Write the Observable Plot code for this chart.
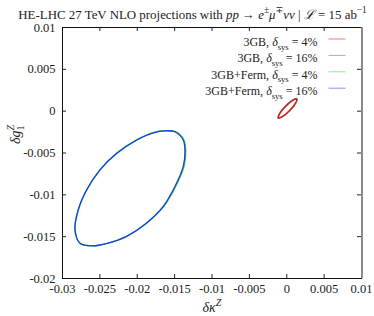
<!DOCTYPE html>
<html><head><meta charset="utf-8">
<script src="https://cdn.jsdelivr.net/npm/d3@7"></script>
<script src="https://cdn.jsdelivr.net/npm/@observablehq/plot@0.6"></script>
<style>body{margin:0;background:#fff}</style>
</head><body>
<script>
// ---- data ----
const xTicks = [-0.03, -0.025, -0.02, -0.015, -0.01, -0.005, 0, 0.005, 0.01];
const yTicks = [-0.02, -0.015, -0.01, -0.005, 0, 0.005, 0.01];

const seriesNames = ["3GB, *δ*_{sys} = 4%", "3GB, *δ*_{sys} = 16%", "3GB+Ferm, *δ*_{sys} = 4%", "3GB+Ferm, *δ*_{sys} = 16%"];
const seriesColors = ["#e01010", "#707070", "#30e030", "#2038f0"];

// 3GB, 4%
const gb4X = [0.00131, 0.00114, 0.00036, -0.00056, -0.00109, -0.00092, -0.00014, 0.00078];
const gb4Y = [0.00140, 0.00093, 0.00010, -0.00061, -0.00076, -0.00029, 0.00055, 0.00125];
// 3GB, 16%
const gb16X = [0.00140, 0.00122, 0.00042, -0.00060, -0.00118, -0.00100, -0.00018, 0.00080];
const gb16Y = [0.00150, 0.00098, 0.00003, -0.00069, -0.00086, -0.00030, 0.00062, 0.00135];
// 3GB+Ferm, 4%
const ferm4X = [-0.01630, -0.01488, -0.01376, -0.01352, -0.01375, -0.01488, -0.01648, -0.01874, -0.02142, -0.02400, -0.02600, -0.02766, -0.02833, -0.02789, -0.02676, -0.02499, -0.02275, -0.02008, -0.01786];
const ferm4Y = [-0.00235, -0.00246, -0.00345, -0.00485, -0.00663, -0.00901, -0.01139, -0.01337, -0.01496, -0.01580, -0.01610, -0.01578, -0.01417, -0.01179, -0.00940, -0.00702, -0.00504, -0.00345, -0.00258];
// 3GB+Ferm, 16%
const ferm16X = [-0.01630, -0.01496, -0.01385, -0.01362, -0.01385, -0.01496, -0.01652, -0.01874, -0.02142, -0.02400, -0.02600, -0.02766, -0.02833, -0.02789, -0.02676, -0.02499, -0.02275, -0.02008, -0.01786];
const ferm16Y = [-0.00235, -0.00246, -0.00345, -0.00485, -0.00663, -0.00901, -0.01139, -0.01337, -0.01496, -0.01580, -0.01610, -0.01578, -0.01417, -0.01179, -0.00940, -0.00702, -0.00504, -0.00345, -0.00258];

const titleText = "HE-LHC 27 TeV NLO projections with *pp* → *e*^{±}*μ*^{∓}*νν* | *ℒ* = 15 ab^{−1}";
const xLabel = "*δκ*^{*Z*}";
const yLabel = "*δg*_{1}^{*Z*}";

// ---- build ----
const FONT = "'Liberation Serif', 'DejaVu Serif', serif";
const W = 374, H = 316, mT = 27, mR = 13, mB = 38, mL = 62;
const plotH = H - mT - mB, plotW = W - mL - mR;
const TL = 4;

const toPts = (xs, ys) => xs.map((x, i) => ({x, y: ys[i]}));
const curves = [
  {pts: toPts(gb16X, gb16Y), c: seriesColors[1], w: 1.3},
  {pts: toPts(gb4X, gb4Y), c: seriesColors[0], w: 1.2},
  {pts: toPts(ferm4X, ferm4Y), c: seriesColors[2], w: 1.5},
  {pts: toPts(ferm16X, ferm16Y), c: seriesColors[3], w: 1.3}
];

const lineSym = {draw(ctx, size) { const r = Math.sqrt(size / Math.PI); ctx.moveTo(-r, 0); ctx.lineTo(r, 0); }};

const legendMarks = [];
seriesNames.forEach((name, i) => {
  const dy = 10 + i * 16.4;
  legendMarks.push(Plot.text([name], {text: d => d, frameAnchor: "top-right", dx: -44, dy, textAnchor: "end", fontSize: 12, fill: "#222"}));
  legendMarks.push(Plot.dot([name], {frameAnchor: "top-right", dx: -24.5, dy: dy + 1.5, r: 8.5, symbol: lineSym, fill: "none", stroke: seriesColors[i], strokeWidth: 1, strokeOpacity: 0.55}));
});

const fmt = d => d === 0 ? "0" : String(+d.toFixed(4));

const svg = Plot.plot({
  width: W, height: H,
  marginTop: mT, marginRight: mR, marginBottom: mB, marginLeft: mL,
  style: {fontFamily: FONT, fontSize: "12px", color: "#222", background: "#fff"},
  x: {domain: [-0.03, 0.01], ticks: xTicks, tickFormat: fmt, tickSize: 0, tickPadding: 6, label: null},
  y: {domain: [-0.02, 0.01], ticks: yTicks, tickFormat: fmt, tickSize: 0, tickPadding: 7, label: null},
  marks: [
    // inward ticks on all four sides
    Plot.ruleX(xTicks, {x: d => d, insetTop: plotH - TL, stroke: "#222"}),
    Plot.ruleX(xTicks, {x: d => d, insetBottom: plotH - TL, stroke: "#222"}),
    Plot.ruleY(yTicks, {y: d => d, insetRight: plotW - TL, stroke: "#222"}),
    Plot.ruleY(yTicks, {y: d => d, insetLeft: plotW - TL, stroke: "#222"}),
    ...curves.map(c => Plot.line(c.pts, {x: "x", y: "y", curve: "catmull-rom-closed", stroke: c.c, strokeWidth: c.w})),
    Plot.frame({stroke: "#111"}),
    Plot.ruleX([0.01], {stroke: "#8a8a8a", strokeWidth: 2, dx: 0.5}),
    ...legendMarks,
    Plot.text([titleText], {text: d => d, frameAnchor: "top", dx: -19.5, dy: -18, fontSize: 12.9, fill: "#222"}),
    Plot.text([xLabel], {text: d => d, frameAnchor: "bottom", dy: 33, fontSize: 14, fill: "#222"}),
    Plot.text([yLabel], {text: d => d, frameAnchor: "left", dx: -47, dy: -9, rotate: -90, fontSize: 14, fill: "#222"})
  ]
});
document.body.appendChild(svg);

// enlarge axis tick labels
svg.querySelectorAll('g[aria-label$="tick label"]').forEach(g => {
  g.setAttribute("font-size", "12.5");
  g.style.fontSize = "12.5px";
  g.querySelectorAll("text").forEach(t => { t.removeAttribute("font-size"); t.style.fontSize = "12.5px"; });
});

// ---- rich text: *italic*, _{sub}, ^{sup} ----
function parseRich(s) {
  const segs = []; let italic = false, i = 0, buf = "", shift = 0;
  const flush = () => { if (buf) segs.push({t: buf, it: italic, sh: shift}); buf = ""; };
  while (i < s.length) {
    const ch = s[i];
    if (ch === "*") { flush(); italic = !italic; i++; continue; }
    if ((ch === "_" || ch === "^") && s[i + 1] === "{") {
      flush();
      const end = s.indexOf("}", i + 2);
      const inner = s.slice(i + 2, end);
      const prevIt = italic; italic = false;
      shift = ch === "_" ? 1 : -1;
      for (const c of inner) { if (c === "*") { flush(); italic = !italic; } else buf += c; }
      flush(); shift = 0; italic = prevIt;
      i = end + 1; continue;
    }
    buf += ch; i++;
  }
  flush();
  return segs;
}
svg.querySelectorAll("text").forEach(el => {
  const s = el.textContent;
  if (!/[*_^]/.test(s) || el.querySelector("tspan")) return;
  const fs = parseFloat(getComputedStyle(el).fontSize) || 11;
  const segs = parseRich(s);
  el.textContent = "";
  let cur = 0, prev = null;
  segs.forEach(g => {
    const ts = document.createElementNS("http://www.w3.org/2000/svg", "tspan");
    ts.textContent = g.t;
    if (g.it) ts.setAttribute("font-style", "italic");
    const target = g.sh === 1 ? 0.3 * fs : g.sh === -1 ? -0.42 * fs : 0;
    if (g.sh) ts.setAttribute("font-size", (fs * 0.72).toFixed(2));
    if (target !== cur) { ts.setAttribute("dy", (target - cur).toFixed(2)); cur = target; }
    if (g.sh === -1 && prev && prev.g.sh === 1) {
      const wsub = prev.ts.getComputedTextLength();
      ts.setAttribute("dx", (-wsub).toFixed(2));
    }
    el.appendChild(ts);
    prev = {g, ts};
  });
});
</script>
</body></html>
